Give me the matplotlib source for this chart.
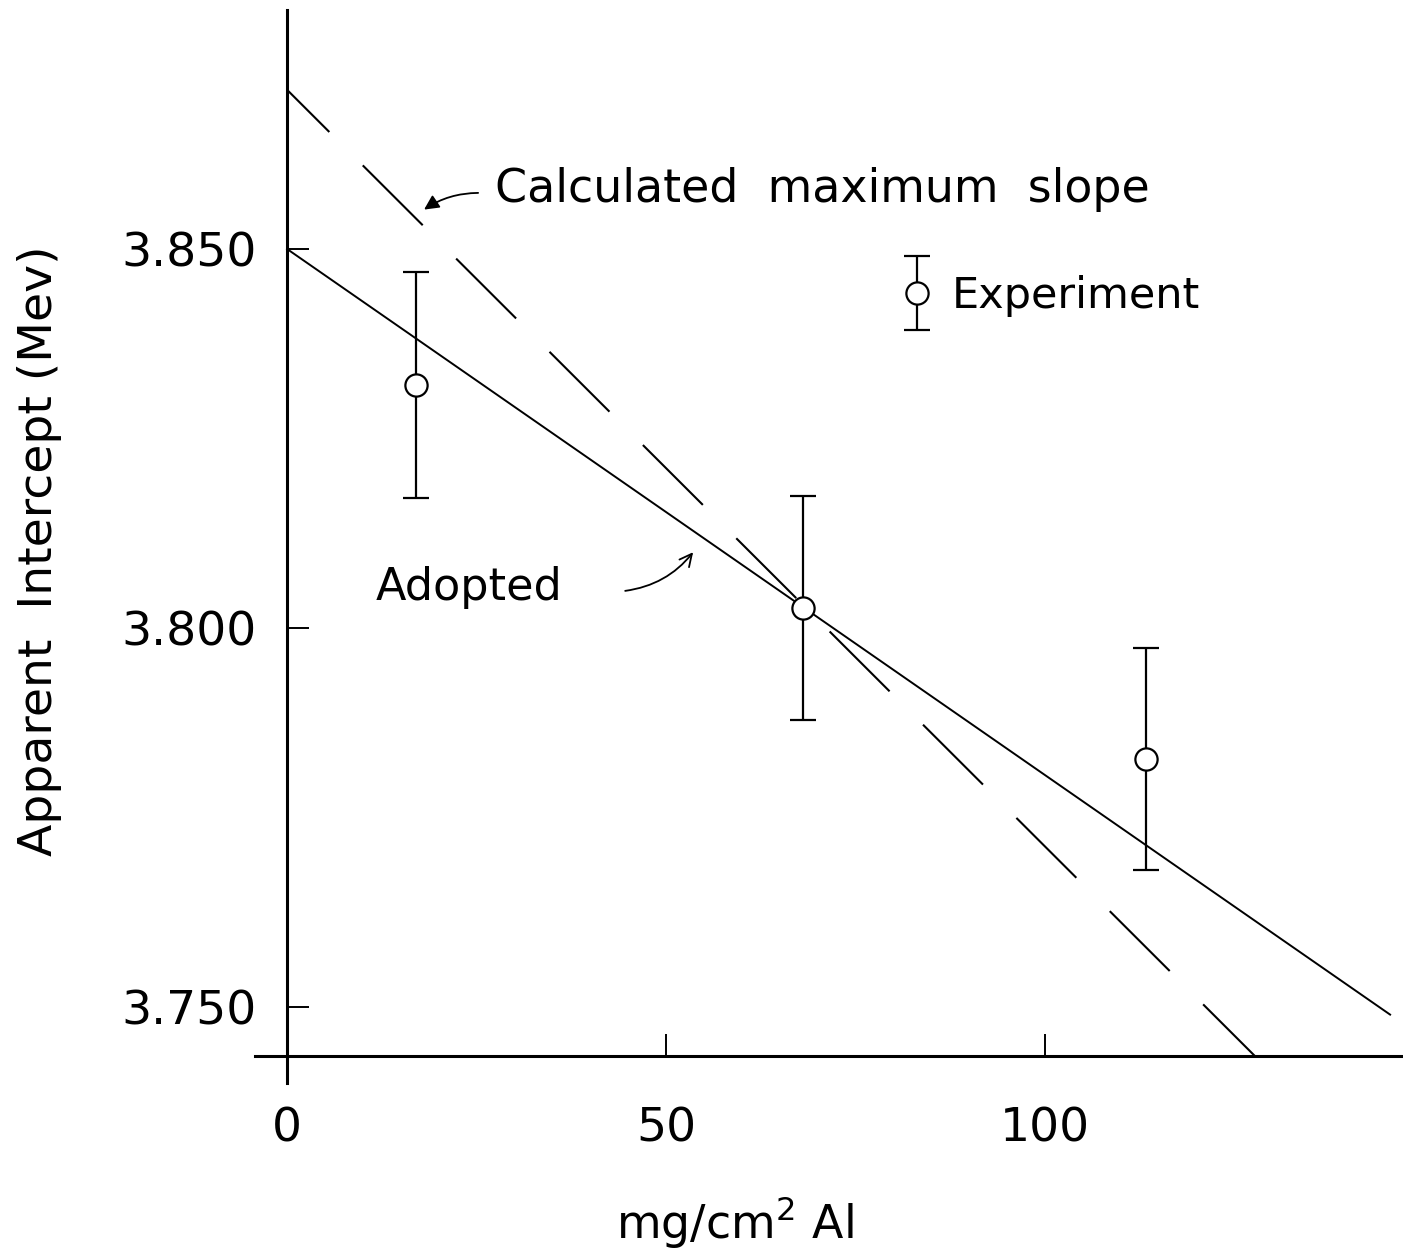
import matplotlib.pyplot as plt
from matplotlib.container import ErrorbarContainer
from matplotlib.legend_handler import HandlerErrorbar

# measured apparent intercepts vs absorber thickness
thickness = [17.0, 68.1, 113.3]          # mg/cm^2 Al
intercept = [3.8320, 3.8026, 3.7827]     # Mev
intercept_err = [0.0149, 0.0148, 0.0146]

# adopted line (end points)
adopted_x = [0.0, 145.5]
adopted_y = [3.850, 3.749]

# calculated maximum slope (end points)
max_slope_x = [0.0, 127.7]
max_slope_y = [3.871, 3.7435]

x_ticks = [0, 50, 100]
y_ticks = [3.750, 3.800, 3.850]
y_tick_labels = ["3.750", "3.800", "3.850"]

plt.rcParams['font.family'] = ['DejaVu Sans']
plt.rcParams['lines.scale_dashes'] = False

fig = plt.figure(figsize=(14.03, 12.54), dpi=100)
ax = fig.add_axes([0.1776, 0.1244, 0.8224, 0.8735])
ax.set_xlim(-5, 147.2)
ax.set_ylim(3.738, 3.8825)

ax.plot(adopted_x, adopted_y, color='k', lw=1.4)
ax.plot(max_slope_x, max_slope_y, color='k', lw=1.5, linestyle=(18, (61, 34)))

exp = ax.errorbar(thickness, intercept, yerr=intercept_err, fmt='o', ms=16,
                  mfc='white', mec='k', mew=1.6, ecolor='k', elinewidth=1.6,
                  capsize=9.5, capthick=1.6, label='Experiment', zorder=3)

# axes drawn as crossing lines
for side in ('top', 'right'):
    ax.spines[side].set_visible(False)
ax.spines['left'].set_position(('data', 0))
ax.spines['bottom'].set_position(('data', 3.7435))
ax.spines['left'].set_bounds(3.7400, 3.8815)
ax.spines['bottom'].set_bounds(-4.2, 147.2)
ax.spines['left'].set_linewidth(2.2)
ax.spines['bottom'].set_linewidth(2.2)

ax.set_xticks(x_ticks)
ax.set_yticks(y_ticks, y_tick_labels)
ax.tick_params(axis='both', direction='in', length=16, width=1.4, labelsize=34)
ax.tick_params(axis='x', pad=36)
ax.tick_params(axis='y', pad=22)

ax.set_xlabel('mg/cm$^2$ Al', fontsize=33)
ax.xaxis.set_label_coords(0.421, -0.088)
ax.set_ylabel('Apparent  Intercept (Mev)', fontsize=34)
ax.yaxis.set_label_coords(-0.162, 0.50)

# labels with arrows
ax.text(27.4, 3.8578, 'Calculated  maximum  slope', fontsize=33, va='center', ha='left')
ax.annotate('', xy=(18.07, 3.8552), xytext=(25.2, 3.8574),
            arrowprops=dict(arrowstyle='-|>', color='k', lw=1.3, mutation_scale=22,
                            connectionstyle='arc3,rad=0.15', shrinkA=0, shrinkB=0))
ax.text(11.7, 3.8053, 'Adopted', fontsize=32, va='center', ha='left')
ax.annotate('', xy=(53.56, 3.8100), xytext=(44.6, 3.8049),
            arrowprops=dict(arrowstyle='->', color='k', lw=1.3, mutation_scale=22,
                            connectionstyle='arc3,rad=0.2', shrinkA=0, shrinkB=0))

ax.legend(handles=[exp], loc='center left', bbox_to_anchor=(80.3, 3.8438),
          bbox_transform=ax.transData, frameon=False, fontsize=31,
          handlelength=1.0, handletextpad=0.3, borderpad=0, borderaxespad=0,
          handler_map={ErrorbarContainer: HandlerErrorbar(yerr_size=0.85)})

fig.savefig('out.png', dpi=100)
